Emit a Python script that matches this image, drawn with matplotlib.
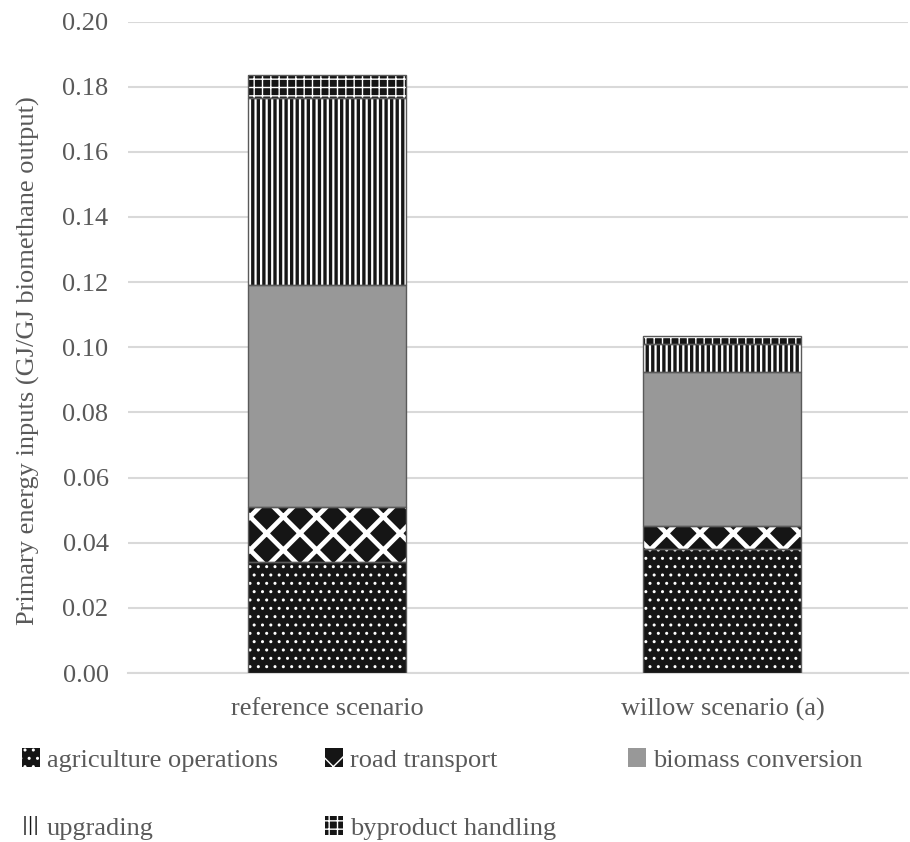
import numpy as np
import matplotlib
matplotlib.use("Agg")
import matplotlib.pyplot as plt
from matplotlib.patches import Patch

# Primary energy inputs per scenario, stacked by process step
categories = ["reference scenario", "willow scenario (a)"]
agriculture = [0.0340, 0.0382]
road_transport = [0.0170, 0.0070]
biomass_conversion = [0.0680, 0.0473]
upgrading = [0.0575, 0.0085]
byproduct_handling = [0.0070, 0.0025]

series_names = ["agriculture operations", "road transport", "biomass conversion",
                "upgrading", "byproduct handling"]
series_values = [agriculture, road_transport, biomass_conversion, upgrading, byproduct_handling]

# face colour, hatch colour, hatch pattern, hatch line width
styles = [
    ("#151515", "white", "..", 1.0),
    ("#151515", "white", "x", 3.4),
    ("#989898", "#989898", None, 1.0),
    ("white", "#151515", "|||", 2.4),
    ("#151515", "white", "++", 1.0),
]

TEXT = "#595959"
GRID = "#d9d9d9"

plt.rcParams["font.family"] = ["Liberation Serif", "DejaVu Serif"]
plt.rcParams["font.size"] = 19


def make_patch_style(artist, lw):
    if hasattr(artist, "set_hatch_linewidth"):
        artist.set_hatch_linewidth(lw)


fig = plt.figure(figsize=(9.10, 8.42), dpi=100)
ax = fig.add_axes([128 / 910, 1 - 673 / 842, 780 / 910, (673 - 21.5) / 842])

x = np.arange(len(categories))
width = 0.40
bottom = np.zeros(len(categories))
handles = []
for name, vals, (face, hcol, hatch, hlw) in zip(series_names, series_values, styles):
    vals = np.array(vals)
    bars = ax.bar(x, vals, width, bottom=bottom, color=face, edgecolor=hcol,
                  hatch=hatch, linewidth=0, zorder=3)
    for b in bars:
        make_patch_style(b, hlw)
    # thin grey outline around each segment
    ax.bar(x, vals, width, bottom=bottom, fill=False, edgecolor="#5a5a5a",
           linewidth=1.0, zorder=4)
    bottom += vals
    h = Patch(facecolor=face, edgecolor=hcol, hatch=hatch, linewidth=0)
    make_patch_style(h, hlw)
    handles.append(h)

ax.set_ylim(0, 0.20)
ax.set_xlim(-0.505, 1.47)
ax.set_yticks(np.arange(0, 0.201, 0.02))
ax.set_yticklabels([f"{v:.2f}" for v in np.arange(0, 0.201, 0.02)])
ax.set_xticks(x)
ax.set_xticklabels(categories)
ax.tick_params(axis="both", length=0, colors=TEXT, labelsize=19)
ax.tick_params(axis="y", pad=14)
ax.tick_params(axis="x", pad=18)
ax.yaxis.grid(True, color=GRID, linewidth=1.5, zorder=0)
ax.set_axisbelow(True)
for side in ["top", "right", "left"]:
    ax.spines[side].set_visible(False)
ax.spines["bottom"].set_color(GRID)
ax.spines["bottom"].set_linewidth(1.5)
ax.set_ylabel("Primary energy inputs (GJ/GJ biomethane output)", color=TEXT,
              fontsize=19)
ax.yaxis.set_label_coords(-0.113, 0.48)

# legend laid out on a fixed grid of three columns
legend_pos = [(22, 760), (325, 760), (628, 760), (22, 828), (325, 828)]
for h, name, (px, py) in zip(handles, series_names, legend_pos):
    fig.legend(handles=[h], labels=[name], loc="center left",
               bbox_to_anchor=(px / 910, 1 - py / 842), frameon=False,
               handlelength=0.7, handleheight=0.7, handletextpad=0.25,
               labelcolor=TEXT, fontsize=19, borderpad=0, borderaxespad=0)

fig.savefig("out.png", dpi=100)
